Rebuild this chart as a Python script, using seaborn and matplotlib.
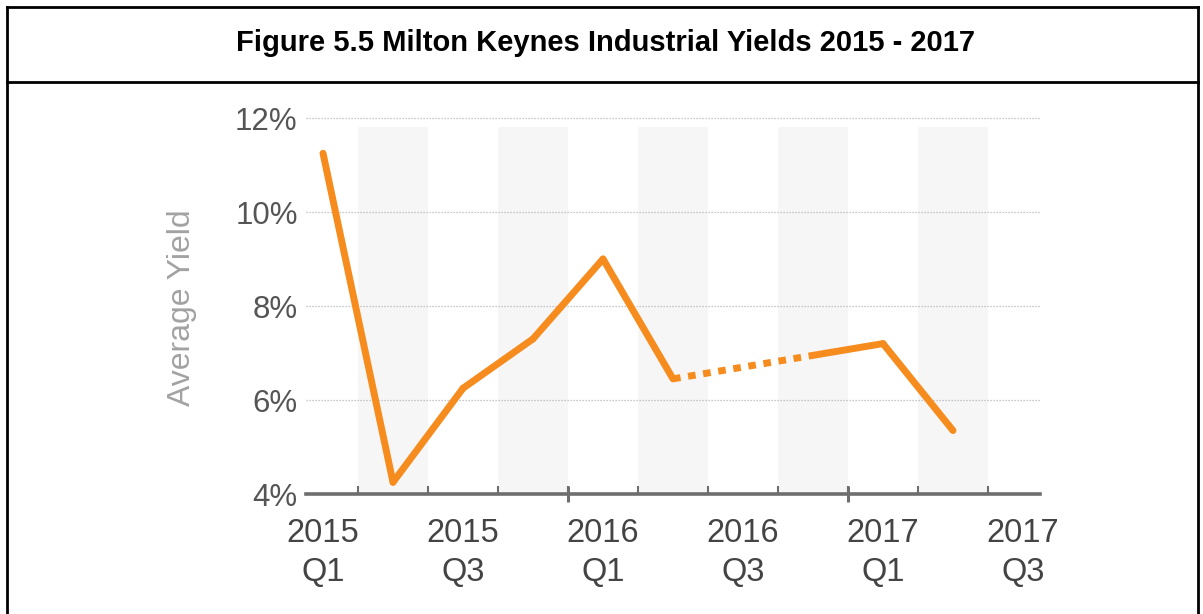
import numpy as np
import pandas as pd
import matplotlib
matplotlib.use("Agg")
import matplotlib.pyplot as plt
from matplotlib.lines import Line2D
from matplotlib.ticker import FuncFormatter
import seaborn as sns

# Quarterly average industrial yields (%); 2016 Q3 and 2017 Q3 have no reading
quarters = ["2015 Q1", "2015 Q2", "2015 Q3", "2015 Q4",
            "2016 Q1", "2016 Q2", "2016 Q3", "2016 Q4",
            "2017 Q1", "2017 Q2", "2017 Q3"]
yields = [11.25, 4.25, 6.25, 7.3, 9.0, 6.45, np.nan, 6.95, 7.2, 5.35, np.nan]
tick_labels = ["2015\nQ1", "2015\nQ3", "2016\nQ1", "2016\nQ3", "2017\nQ1", "2017\nQ3"]
y_ticks = [4, 6, 8, 10, 12]

title = "Figure 5.5 Milton Keynes Industrial Yields 2015 - 2017"
y_title = "Average Yield"

ORANGE = "#F68C1E"
AXIS_GREY = "#6e6e6e"

sns.set_theme(style="white")
plt.rcParams["font.family"] = ["Liberation Sans", "DejaVu Sans"]

W, H = 1203, 614
fig = plt.figure(figsize=(W / 100, H / 100), dpi=100)
fig.patch.set_facecolor("white")

# axes box in pixel terms: x from 306 to 1040, y from 494 (4%) up
ax = fig.add_axes([306 / W, 1 - 494 / H, (1040 - 306) / W, (494 - 113.3) / H])
ax.set_facecolor("white")

pos = np.arange(len(quarters))
vals = np.array(yields, dtype=float)

# alternate light shading on Q2 / Q4 columns
for i, q in enumerate(quarters):
    if q.endswith("Q2") or q.endswith("Q4"):
        ax.axvspan(i - 0.5, i + 0.5, ymin=0, ymax=(11.8 - 4) / (12.1 - 4),
                   color="#f6f6f6", lw=0, zorder=0)

# split the series: solid between adjacent quarters, dotted across a gap
valid = [i for i in pos if not np.isnan(vals[i])]
rows = []
seg = 0
for a, b in zip(valid[:-1], valid[1:]):
    kind = "solid" if b - a == 1 else "gap"
    rows.append({"x": a, "y": vals[a], "seg": seg, "kind": kind})
    rows.append({"x": b, "y": vals[b], "seg": seg, "kind": kind})
    seg += 1
df = pd.DataFrame(rows)

for s, part in df.groupby("seg"):
    kind = part["kind"].iloc[0]
    ls = "-" if kind == "solid" else (0, (1.1, 1.1))
    sns.lineplot(data=part, x="x", y="y", ax=ax, color=ORANGE, lw=5,
                 linestyle=ls, solid_capstyle="round", dash_capstyle="butt",
                 solid_joinstyle="miter", zorder=3, legend=False)

ax.set_xlim(-0.243, 10.243)
ax.set_ylim(4, 12.1)

# y axis: dotted gridlines, percent labels
ax.set_yticks(y_ticks)
ax.yaxis.set_major_formatter(FuncFormatter(lambda v, p: f"{v:.0f}%"))
ax.grid(axis="y", color="#b4b6bc", linestyle=(0, (1, 1.4)), lw=0.9, zorder=1)
ax.grid(axis="x", visible=False)
ax.tick_params(axis="y", length=0, pad=6, labelsize=22.5, labelcolor="#555555")

# x axis: labels every half year, boundary ticks between quarters
ax.set_xticks(pos[::2])
ax.set_xticklabels(tick_labels)
ax.set_xticks(np.arange(0.5, len(quarters) - 1, 1), minor=True)
ax.tick_params(axis="x", which="major", length=0, pad=17, labelsize=23.5,
               labelcolor="#444444")
ax.tick_params(axis="x", which="minor", direction="in", length=6, width=1.5,
               color=AXIS_GREY, bottom=True)
for lab in ax.get_xticklabels():
    lab.set_linespacing(1.33)

# longer ticks at the year boundaries
sec = ax.secondary_xaxis("bottom")
sec.set_xticks([3.5, 7.5])
sec.tick_params(direction="inout", length=12, width=2.2, color=AXIS_GREY,
                labelbottom=False)
sec.spines["bottom"].set_visible(False)

for side in ["top", "right", "left"]:
    ax.spines[side].set_visible(False)
ax.spines["bottom"].set_color(AXIS_GREY)
ax.spines["bottom"].set_linewidth(2.6)
ax.spines["bottom"].set_zorder(4)

ax.set_xlabel("")
ax.set_ylabel(y_title, fontsize=23, color="#a2a2a2")
ax.yaxis.set_label_coords(-0.148, 0.49)

# frame around the figure with a title row
def fig_line(x0, y0, x1, y1, lw=2.0):
    fig.add_artist(Line2D([x0 / W, x1 / W], [1 - y0 / H, 1 - y1 / H],
                          transform=fig.transFigure, color="black", lw=lw,
                          solid_capstyle="projecting"))

fig_line(6.5, 7, 1198, 7)
fig_line(6.5, 82, 1198, 82)
fig_line(6.5, 7, 6.5, H + 2)
fig_line(1198, 7, 1198, H + 2)

fig.text(606 / W, 1 - 43 / H, title, ha="center", va="center",
         fontsize=21, fontweight="bold", color="black",
         family=["Liberation Sans Narrow", "Liberation Sans", "DejaVu Sans"])

fig.savefig("out.png", dpi=100)
